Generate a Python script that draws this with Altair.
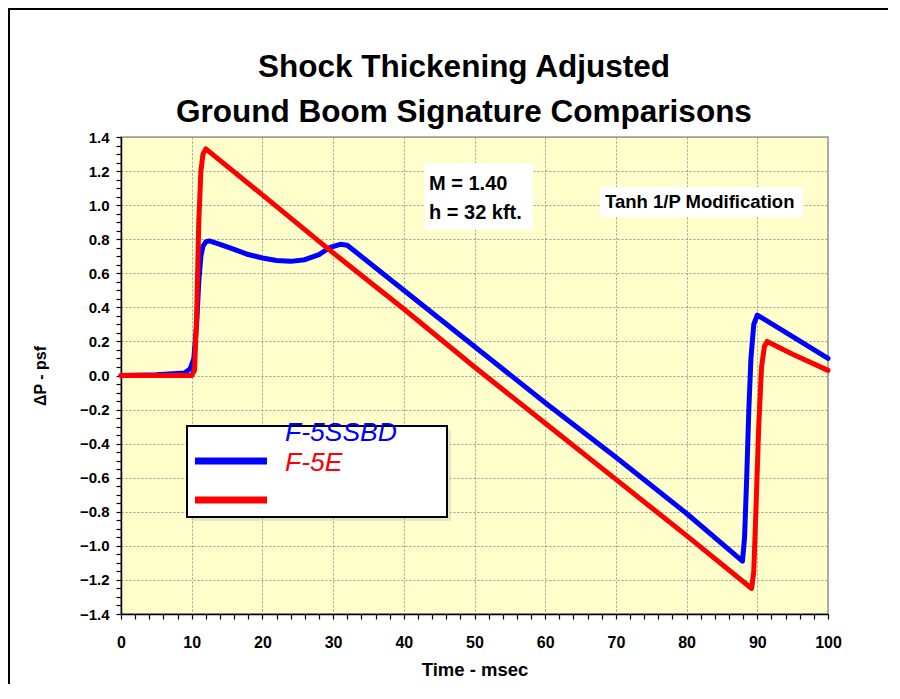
import altair as alt
import pandas as pd

FONT = "Liberation Sans, Arial, sans-serif"

# ---- data ----
series_names = ["F-5SSBD", "F-5E"]
series_colors = ["#0000FF", "#FF0000"]

time_f5ssbd = [0, 5, 9, 9.8, 10.3, 10.7, 11.0, 11.3, 11.6, 12.0, 12.5, 14, 16, 18, 20, 22, 24, 26, 28,
               29.5, 31, 32, 40, 50, 60, 70, 80, 87.9, 88.2, 88.5, 88.8, 89.1, 89.5, 90.0, 95, 100]
dp_f5ssbd = [0, 0.005, 0.015, 0.04, 0.1, 0.3, 0.55, 0.70, 0.76, 0.785, 0.79, 0.77, 0.74, 0.71, 0.69,
             0.675, 0.67, 0.68, 0.71, 0.75, 0.77, 0.765, 0.50, 0.17, -0.16, -0.48, -0.81, -1.09, -0.95,
             -0.6, -0.2, 0.1, 0.3, 0.355, 0.2275, 0.10]

time_f5e = [0, 5, 10, 10.4, 10.7, 11.0, 11.3, 11.6, 12.0, 20, 30, 40, 50, 60, 70, 80, 89.2, 89.5,
            89.8, 90.2, 90.6, 91.0, 91.4, 95, 100]
dp_f5e = [0, 0, 0.0, 0.03, 0.35, 0.9, 1.2, 1.3, 1.33, 1.06, 0.72, 0.39, 0.05, -0.28, -0.61, -0.94,
          -1.25, -1.15, -0.8, -0.3, 0.05, 0.17, 0.20, 0.125, 0.03]

title_lines = ["Shock Thickening Adjusted", "Ground Boom Signature Comparisons"]
x_title = "Time - msec"
y_title = "\u0394P - psf"
note_condition = ["M = 1.40", "h = 32 kft."]
note_method = "Tanh 1/P Modification"

x_ticks = [i * 2 for i in range(51)]
y_ticks = [round(-1.4 + i * 0.05, 2) for i in range(57)]

df = pd.concat([
    pd.DataFrame({"t": time_f5ssbd, "dp": dp_f5ssbd, "series": series_names[0]}),
    pd.DataFrame({"t": time_f5e, "dp": dp_f5e, "series": series_names[1]}),
])

W, H = 707, 477

x_enc = alt.X("t:Q", scale=alt.Scale(domain=[0, 100], nice=False, zero=False),
              axis=alt.Axis(values=x_ticks, title=x_title,
                            labelExpr="abs(datum.value/10 - round(datum.value/10)) < 0.001 ? datum.label : ''",
                            gridOpacity={"condition": {"test": "abs(datum.value/10 - round(datum.value/10)) < 0.001", "value": 1}, "value": 0},
                            labelOverlap=False, labelFlush=False, labelPadding=15,
                            labelFontSize=16, titleFontSize=18.5, titleY=46, titleBaseline="top"))
y_enc = alt.Y("dp:Q", scale=alt.Scale(domain=[-1.4, 1.4], nice=False, zero=False),
              axis=alt.Axis(values=y_ticks, title=y_title,
                            labelExpr="abs(datum.value*5 - round(datum.value*5)) < 0.001 ? format(datum.value, '.1f') : ''",
                            gridOpacity={"condition": {"test": "abs(datum.value*5 - round(datum.value*5)) < 0.001", "value": 1}, "value": 0},
                            labelOverlap=False, labelFlush=False, labelPadding=7,
                            labelFontSize=15, titleFontSize=16, titleX=-73))

base = alt.Chart(df)
blue = base.transform_filter(alt.datum.series == series_names[0]).mark_line(
    strokeWidth=5, strokeJoin="round", strokeCap="round", color=series_colors[0]).encode(x=x_enc, y=y_enc)
red = base.transform_filter(alt.datum.series == series_names[1]).mark_line(
    strokeWidth=5, strokeJoin="round", strokeCap="round", color=series_colors[1]).encode(x=x_enc, y=y_enc)

one = alt.Data(values=[{"k": 1}])


def box(x1, x2, y1, y2, fill="white", stroke=None, sw=0, opacity=1):
    kw = dict(fill=fill, opacity=opacity)
    if stroke:
        kw.update(stroke=stroke, strokeWidth=sw)
    return alt.Chart(one).mark_rect(**kw).encode(
        x=alt.value(x1), x2=alt.value(x2), y=alt.value(y1), y2=alt.value(y2))


def txt(s, x, y, size, color="black", weight="bold", style="normal", align="left"):
    return alt.Chart(one).mark_text(align=align, baseline="middle", font=FONT, fontSize=size,
                                    fontWeight=weight, fontStyle=style, color=color).encode(
        x=alt.value(x), y=alt.value(y), text=alt.value(s))


def hline(x1, x2, y, color, width):
    return alt.Chart(one).mark_rule(color=color, strokeWidth=width).encode(
        x=alt.value(x1), x2=alt.value(x2), y=alt.value(y))


def vline(x, y1, y2, color, width):
    return alt.Chart(one).mark_rule(color=color, strokeWidth=width).encode(
        x=alt.value(x), y=alt.value(y1), y2=alt.value(y2))


layers = [
    blue, red,
    box(304, 412, 26, 93),
    txt(note_condition[0], 308, 47, 20),
    txt(note_condition[1], 308, 76, 20),
    box(479, 682, 50, 80),
    txt(note_method, 484, 65, 18.5),
    # legend
    box(70, 330, 293, 384, fill="#bbbbbb", opacity=0.35),
    box(66, 326, 289, 380, fill="white", stroke="black", sw=2),
    hline(74, 146, 324, series_colors[0], 7),
    hline(74, 146, 363, series_colors[1], 7),
    txt(series_names[0], 164, 296, 26.5, color=series_colors[0], weight="normal", style="italic"),
    txt(series_names[1], 164, 326, 26.5, color=series_colors[1], weight="normal", style="italic"),
    # title
    txt(title_lines[0], 343, -69, 31.5, align="center"),
    txt(title_lines[1], 343, -24, 31.5, align="center"),
    # outer frame
    hline(-113, 770, -128, "black", 2),
    vline(-112, -129, 560, "black", 2),
]

chart = alt.layer(*layers).properties(
    width=W, height=H,
    padding={"left": 113, "top": 129, "right": 60, "bottom": 70},
    autosize=alt.AutoSizeParams(type="none"),
).configure(background="white").configure_view(
    fill="#FFFFCC", stroke="#999999", strokeWidth=1.5
).configure_axis(
    labelFont=FONT, titleFont=FONT, labelFontWeight="bold", titleFontWeight="bold",
    labelColor="black", titleColor="black", domainColor="black", domainWidth=1.5,
    tickColor="black", tickSize=5, tickWidth=1.2, gridColor="#999999", gridDash=[2, 2], gridWidth=1,
)

chart.save("out.html", embed_options={"renderer": "svg", "actions": False})
